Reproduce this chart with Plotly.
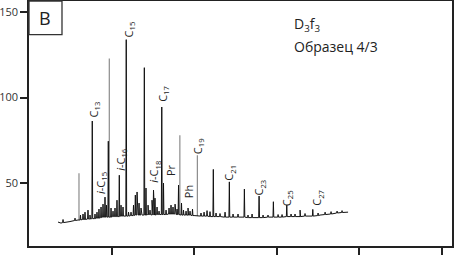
import plotly.graph_objects as go

# ---------------- data (retention time, detector signal) ----------------
# baseline of the chromatogram
bl_rt = [3.51, 3.87, 4.24, 4.60, 4.96, 5.45, 5.93, 6.42, 6.90, 7.38, 7.87, 8.35, 8.84, 9.32,
         9.81, 10.29, 10.77, 11.26, 11.99, 12.47, 13.20, 13.68, 14.41, 14.89, 15.62, 16.46,
         17.07, 17.80, 18.52, 19.25, 19.98, 20.70, 21.43, 22.15, 22.88, 23.61, 24.58, 25.54,
         26.76, 27.97, 29.18, 30.39, 31.60, 32.81, 34.02, 35.23, 36.44, 37.65, 38.62]
bl_sig = [27.2, 26.6, 26.9, 27.2, 27.5, 28.1, 28.4, 28.7, 28.7, 29.0, 29.2, 29.5, 30.1, 30.1,
          30.1, 30.4, 30.4, 30.7, 30.7, 31.0, 31.3, 31.3, 31.6, 31.3, 31.6, 31.6,
          31.9, 31.6, 31.3, 31.3, 31.0, 30.7, 30.7, 30.4, 30.4, 30.1, 30.1, 30.1,
          29.8, 29.8, 30.1, 30.1, 30.4, 30.4, 30.7, 31.3, 31.9, 32.5, 33.0]

# peaks drawn in black: retention time, apex, local base
pk_rt = [4.12, 5.57, 6.23, 6.54, 6.78, 7.14, 7.38, 7.66, 7.99, 8.23, 8.47, 8.72, 8.96, 9.20,
         9.38, 9.60, 9.93, 10.17, 10.41, 10.65, 10.93, 11.14, 11.38, 11.77, 12.05, 12.35,
         12.65, 12.87, 13.08, 13.32, 13.56, 13.96, 14.16, 14.41, 14.65, 14.89, 15.07, 15.25,
         15.50, 15.74, 16.07, 16.28, 16.59, 16.95, 17.19, 17.43, 17.68, 17.92, 18.10, 18.46,
         18.70, 19.01, 19.25, 19.49, 19.79, 20.82, 21.19, 21.55, 21.91, 22.31, 22.64, 23.12,
         23.73, 24.25, 24.70, 25.30, 26.07, 26.51, 27.00, 27.85, 28.33, 28.93, 29.58, 30.15,
         30.63, 31.20, 31.72, 32.20, 32.81, 33.41, 34.35, 34.99, 35.84, 36.56, 37.29, 37.89]
pk_top = [28.7, 29.5, 31.3, 31.9, 33.0, 34.2, 31.3, 86.3, 31.9, 33.0, 34.8, 36.0, 37.7, 41.8,
          37.1, 74.5, 35.4, 33.6, 35.4, 40.0, 54.6, 37.1, 36.0, 133.9, 33.0, 33.0,
          37.1, 43.0, 44.8, 38.3, 35.4, 117.5, 47.1, 37.1, 34.2, 40.0, 45.9, 41.2,
          36.0, 33.6, 94.5, 50.0, 34.2, 35.4, 37.1, 36.0, 37.7, 34.8, 48.8, 38.3,
          34.2, 33.6, 35.4, 33.6, 34.8, 32.5, 33.0, 33.9, 33.3, 58.0, 32.5, 32.2,
          33.0, 50.7, 31.9, 31.9, 46.5, 31.3, 31.9, 42.4, 31.3, 31.3, 39.1, 31.6,
          31.6, 37.1, 31.9, 31.9, 34.2, 32.2, 34.6, 32.5, 33.0, 33.3, 33.6, 33.9]
pk_base = [26.9, 28.1, 28.4, 28.7, 28.7, 29.0, 29.0, 29.2, 29.2, 29.5, 29.5, 29.8, 30.1, 30.1,
           30.1, 30.1, 30.1, 30.4, 30.4, 30.4, 30.4, 30.7, 30.7, 30.7, 30.7, 31.0,
           31.0, 31.3, 31.3, 31.3, 31.3, 31.3, 31.3, 31.6, 31.6, 31.3, 31.3, 31.3,
           31.6, 31.6, 31.6, 31.6, 31.6, 31.9, 31.9, 31.9, 31.9, 31.6, 31.6, 31.3,
           31.3, 31.3, 31.3, 31.3, 31.0, 30.7, 30.7, 30.7, 30.4, 30.4, 30.4, 30.4,
           30.1, 30.1, 30.1, 30.1, 30.1, 29.8, 29.8, 29.8, 29.8, 30.1, 30.1, 30.1,
           30.1, 30.4, 30.4, 30.4, 30.4, 30.7, 30.7, 31.0, 31.6, 31.9, 32.5, 32.8]

# peaks that print in grey
gp_rt = [6.05, 9.72, 18.26, 20.38]
gp_top = [55.8, 122.8, 78.0, 66.3]
gp_base = [28.4, 30.1, 31.6, 30.7]

# compound labels
lab_text = ["C<sub>13</sub>", "C<sub>15</sub>", "<i>i</i>-C<sub>15</sub>", "<i>i</i>-C<sub>16</sub>",
            "C<sub>17</sub>", "<i>i</i>-C<sub>18</sub>", "Pr", "Ph", "C<sub>19</sub>",
            "C<sub>21</sub>", "C<sub>23</sub>", "C<sub>25</sub>", "C<sub>27</sub>"]
lab_rt = [7.87, 12.11, 8.70, 11.10, 16.28, 15.20, 17.07, 19.25, 20.46, 24.27, 27.90, 31.23, 34.93]
lab_sig = [93.1, 139.9, 50.0, 64.0, 101.9, 56.4, 57.6, 44.7, 71.6, 55.8, 47.1, 41.2, 41.2]

y_ticks = [50, 100, 150]
x_ticks = [10, 20, 30, 40, 50]

# ---------------- build the trace ----------------
HALF = 0.05
pts = list(zip(bl_rt, bl_sig))
for r, t, b in zip(pk_rt, pk_top, pk_base):
    pts += [(r - HALF, b), (r, t), (r + HALF, b)]
pts.sort(key=lambda p: p[0])
tx = [p[0] for p in pts]
ty = [p[1] for p in pts]

gx, gy = [], []
for r, t, b in zip(gp_rt, gp_top, gp_base):
    gx += [r, r, None]
    gy += [b, t, None]

FONT = "Open Sans"
fig = go.Figure()
fig.add_trace(go.Scatter(x=gx, y=gy, mode="lines", line=dict(color="#8c8c8c", width=1.2),
                         hoverinfo="skip", showlegend=False))
fig.add_trace(go.Scatter(x=tx, y=ty, mode="lines", line=dict(color="#111111", width=1),
                         hoverinfo="skip", showlegend=False))

for t, r, s in zip(lab_text, lab_rt, lab_sig):
    fig.add_annotation(x=r, y=s, text=t, showarrow=False, textangle=-90,
                       font=dict(family=FONT, size=11, color="#222222"),
                       xanchor="center", yanchor="middle")

fig.add_annotation(xref="paper", yref="paper", x=0.622, y=0.905, text="D<sub>3</sub>f<sub>3</sub>",
                   showarrow=False, xanchor="left", yanchor="middle",
                   font=dict(family=FONT, size=14, color="#222222"))
fig.add_annotation(xref="paper", yref="paper", x=0.622, y=0.815, text="Образец 4/3",
                   showarrow=False, xanchor="left", yanchor="middle",
                   font=dict(family=FONT, size=14, color="#222222"))

# panel letter box
fig.add_shape(type="rect", xref="paper", yref="paper", x0=0, x1=0.078, y0=0.863, y1=1,
              line=dict(color="#333333", width=1.3), fillcolor="white", layer="above")
fig.add_annotation(xref="paper", yref="paper", x=0.039, y=0.93, text="B", showarrow=False,
                   xanchor="center", yanchor="middle",
                   font=dict(family=FONT, size=18, color="#222222"))

fig.update_xaxes(range=[0, 51.2], tickvals=x_ticks, showticklabels=False, ticks="outside",
                 ticklen=9, tickwidth=2, tickcolor="#222222", showline=True, linecolor="#222222",
                 linewidth=1.5, mirror=True, showgrid=False, zeroline=False, automargin=False)
fig.update_yaxes(range=[13.2, 156.5], tickvals=y_ticks, ticks="outside", ticklen=7, tickwidth=2,
                 tickcolor="#222222", showline=True, linecolor="#222222", linewidth=1.5,
                 mirror=True, showgrid=False, zeroline=False, automargin=False,
                 tickfont=dict(family=FONT, size=11, color="#333333"))
fig.update_layout(width=457, height=255, margin=dict(l=29, r=5, t=1, b=9, autoexpand=False),
                  paper_bgcolor="white", plot_bgcolor="white", showlegend=False)

fig.write_html("out.html", config={"displayModeBar": False},
               post_script="document.body.style.margin='0';document.body.style.padding='0';"
                           "document.body.style.overflow='hidden';")
